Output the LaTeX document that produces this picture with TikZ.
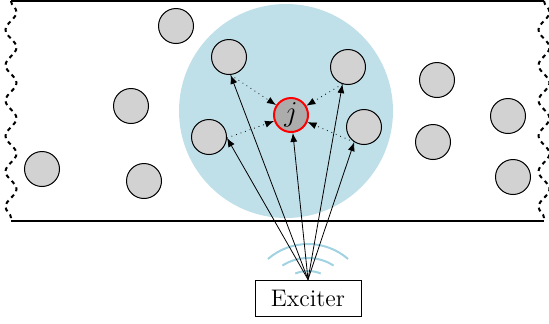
\documentclass[tikz,border=0pt]{standalone}
\usepackage{tikz}
\usetikzlibrary{arrows.meta,decorations.pathmorphing}
\definecolor{fieldblue}{RGB}{191,223,233}
\definecolor{waveblue}{RGB}{160,210,226}

\begin{document}
\begin{tikzpicture}[x=0.5pt,y=0.5pt,>={Latex[length=4.5pt,width=3.5pt]},
  particle/.style={circle,draw,fill=gray!35,minimum size=17.5pt,
                   inner sep=0pt,line width=0.5pt},
  target/.style={circle,draw=red,fill=gray!65,line width=1pt,
                 minimum size=17pt,inner sep=0pt,font=\Large},
  wall/.style={line width=1pt,dash pattern=on 2pt off 2pt,decorate,
               decoration={snake,amplitude=2.75pt,segment length=17.7pt}},
  wave/.style={draw=waveblue,line width=1pt}]
\useasboundingbox (0,0) rectangle (549,-323);
% illuminated region
\fill[fieldblue] (286,-111) circle[radius=107];
% channel walls
\draw[line width=1pt] (11,-1) -- (544,-1);
\draw[line width=1pt] (11,-221) -- (544,-221);
\draw[wall] (11,-1) -- (11,-221);
\draw[wall] (544,-1) -- (544,-221);
% particles
\foreach \n/\p in {pa/{176,-26},pb/{131,-106},pc/{42,-169},pd/{144,-181},
                   pe/{437,-80},pf/{433,-142},pg/{508,-116},ph/{513,-177},
                   ul/{229,-57},ur/{348,-67},ll/{209,-137},lr/{364,-127}}
  \node[particle] (\n) at (\p) {};
\node[target] (j) at (291,-115) {$j$};
% exciter
\node[draw,line width=0.5pt,minimum width=53pt,minimum height=18pt,
      inner sep=2pt,font=\large] (ex) at (308,-298) {Exciter};
\coordinate (src) at (308,-305);
\draw[wave] (src) ++(49:61) arc[start angle=49,end angle=131,radius=61];
\draw[wave] (src) ++(57:47) arc[start angle=57,end angle=123,radius=47];
\draw[wave] (src) ++(68:34) arc[start angle=68,end angle=112,radius=34];
% direct and scattered paths
\draw[->] (ex.north) -- (j);
\foreach \n/\a in {ul/-85,ur/-108,ll/-3,lr/-123} {
  \draw[->] (ex.north) -- (\n.\a);
  \draw[->,dotted] (\n.\a) -- (j);
}
\end{tikzpicture}
\end{document}
